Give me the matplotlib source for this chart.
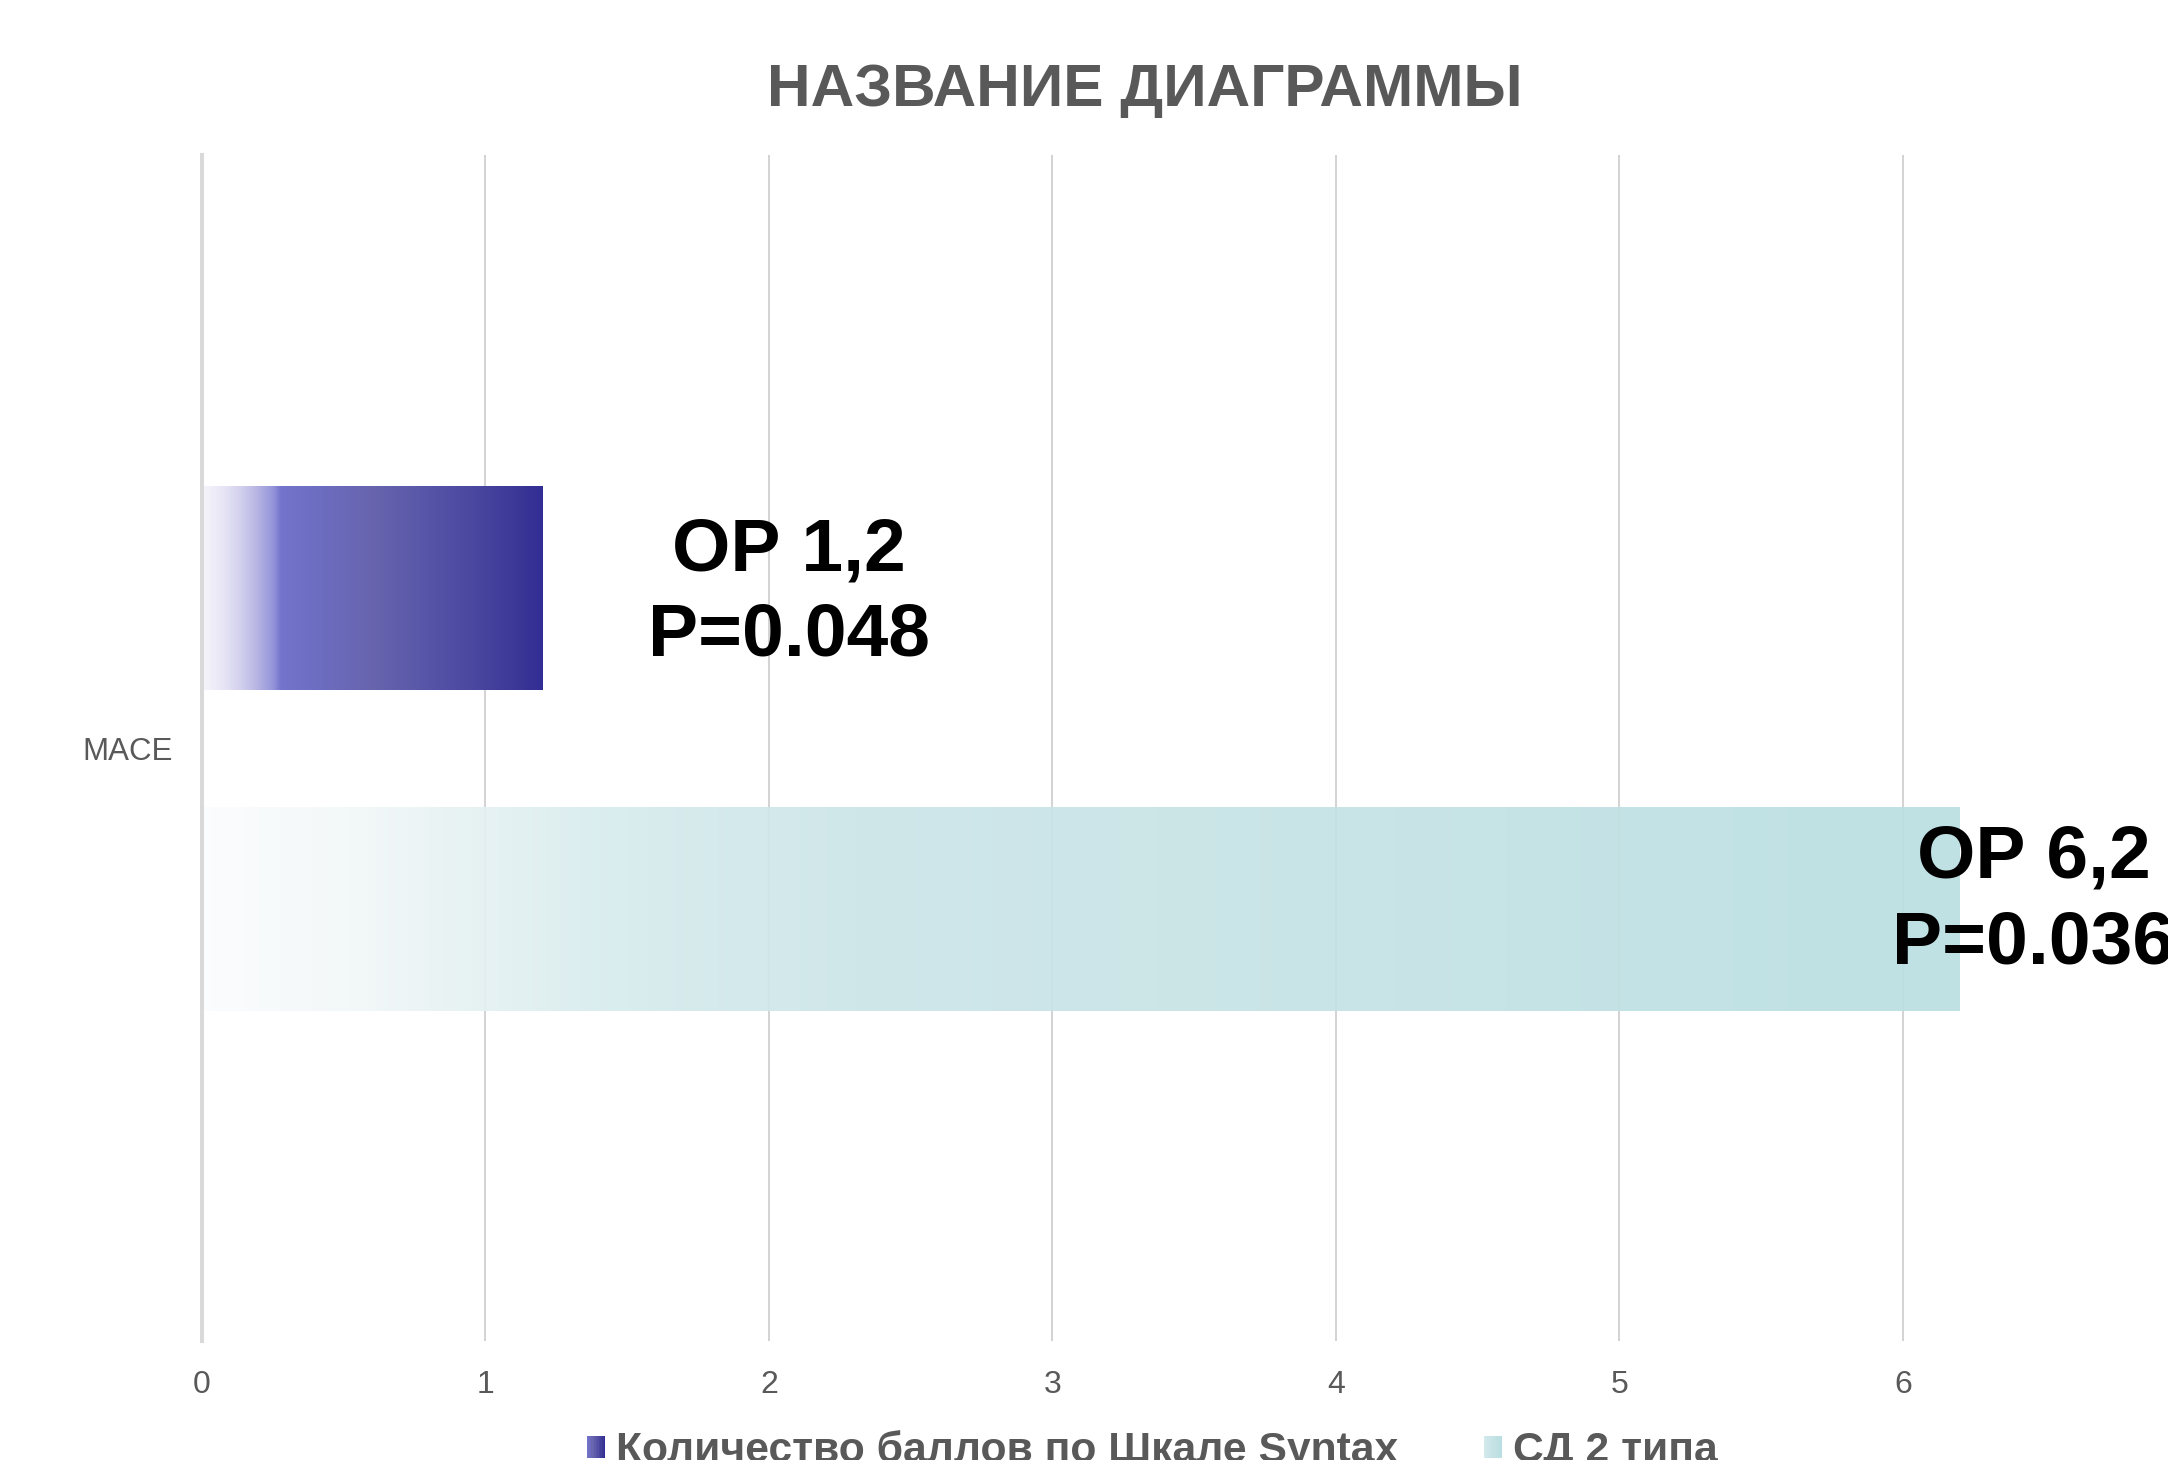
"""Горизонтальная диаграмма ОР для MACE с градиентными столбцами."""

import matplotlib

matplotlib.use("Agg")
import matplotlib.pyplot as plt
import numpy as np
from matplotlib.colors import LinearSegmentedColormap
from matplotlib.legend_handler import HandlerBase
from matplotlib.patches import Rectangle


categories = ["MACE"]
series_names = ["Количество баллов по Шкале Syntax", "СД 2 типа"]
series_values = [1.2, 6.2]
label_texts = ["ОР 1,2\nP=0.048", "ОР 6,2\nP=0.036"]
x_ticks = [0, 1, 2, 3, 4, 5, 6]

TEXT_GRAY = "#595959"
BLUE_STOPS = [
    (0.0, "#f6f5fb"), (0.06, "#e8e6f5"), (0.11, "#d3d1ee"), (0.16, "#b8b5e3"),
    (0.21, "#9292da"), (0.23, "#7474cc"), (0.35, "#6c6cc0"), (0.50, "#6865ae"),
    (0.65, "#5856a8"), (0.80, "#4a47a0"), (0.94, "#3a3696"), (1.0, "#312d94"),
]
TEAL_STOPS = [
    (0.0, "#fbfcfd"), (0.08, "#f3f8f9"), (0.16, "#e4f1f2"), (0.24, "#d6ebed"),
    (0.37, "#cde6e9"), (0.68, "#c4e2e5"), (1.0, "#badfe2"),
]


class GradientHandler(HandlerBase):
    """Маркер легенды в виде маленького градиентного квадрата."""

    def __init__(self, cmap):
        super().__init__()
        self.cmap = cmap

    def create_artists(self, legend, orig_handle, xdescent, ydescent, width, height, fontsize, trans):
        steps = 12
        artists = []
        for i in range(steps):
            artists.append(
                Rectangle(
                    (-xdescent + width * i / steps, -ydescent),
                    width / steps + 0.3,
                    height,
                    facecolor=self.cmap(0.25 + 0.75 * i / (steps - 1)),
                    edgecolor="none",
                    transform=trans,
                )
            )
        return artists


def main() -> None:
    plt.rcParams["font.family"] = ["Liberation Sans", "DejaVu Sans"]
    fig = plt.figure(figsize=(21.68, 14.6), dpi=100, facecolor="white")
    ax = fig.add_axes([202 / 2168, 1 - 1341 / 1460, 7 * 283.5 / 2168, 1186 / 1460])

    cmaps = [
        LinearSegmentedColormap.from_list("blue_grad", BLUE_STOPS),
        LinearSegmentedColormap.from_list("teal_grad", TEAL_STOPS),
    ]
    offsets = [0.1345, -0.136]
    bar_height = 0.172
    gradient = np.linspace(0, 1, 512).reshape(1, -1)

    for value, offset, cmap, name in zip(series_values, offsets, cmaps, series_names):
        bars = ax.barh([0 + offset], [value], height=bar_height, color="none", label=name, zorder=2)
        for patch in bars:
            x0, y0 = patch.get_x(), patch.get_y()
            w, h = patch.get_width(), patch.get_height()
            alpha = 1.0 if cmap.name == "blue_grad" else 0.93
            ax.imshow(gradient, extent=[x0, x0 + w, y0, y0 + h], aspect="auto",
                      cmap=cmap, alpha=alpha, zorder=2, interpolation="bilinear")

    label_x = [2.07, 6.46]
    label_y = [0.1305, -0.129]
    for text, lx, ly in zip(label_texts, label_x, label_y):
        ax.text(lx, ly, text, ha="center", va="center", fontsize=54,
                fontweight="bold", color="black", linespacing=1.3, zorder=4,
                clip_on=False)

    ax.set_xlim(0, 7)
    ax.set_ylim(-0.5, 0.5)
    ax.set_xticks(x_ticks, [str(t) for t in x_ticks])
    ax.set_yticks([0], categories)
    ax.tick_params(axis="x", length=0, pad=21, labelsize=23, labelcolor=TEXT_GRAY)
    ax.tick_params(axis="y", length=0, pad=21, labelsize=22.5, labelcolor=TEXT_GRAY)
    ax.grid(axis="x", color="#d4d4d4", linewidth=1.45, zorder=1)
    ax.set_axisbelow(True)
    for side in ["top", "right", "bottom"]:
        ax.spines[side].set_visible(False)
    ax.spines["left"].set_color("#d9d9d9")
    ax.spines["left"].set_linewidth(2.9)
    ax.spines["left"].set_zorder(3)

    fig.text(1145 / 2168, 1 - 91 / 1460, "НАЗВАНИЕ ДИАГРАММЫ", ha="center", va="center",
             fontsize=43.5, fontweight="bold", color=TEXT_GRAY)

    handles = [Rectangle((0, 0), 1, 1) for _ in series_names]
    fig.legend(
        handles, series_names, loc="center", bbox_to_anchor=(0.5315, 1 - 1451 / 1460),
        ncol=2, frameon=False, prop={"size": 30.7, "weight": "bold"}, labelcolor=TEXT_GRAY,
        handlelength=0.43, handleheight=0.43, handletextpad=0.26, columnspacing=2.0,
        handler_map={handles[0]: GradientHandler(cmaps[0]), handles[1]: GradientHandler(cmaps[1])},
    )

    fig.savefig("out.png", dpi=100, facecolor="white")
    plt.close(fig)


if __name__ == "__main__":
    main()
